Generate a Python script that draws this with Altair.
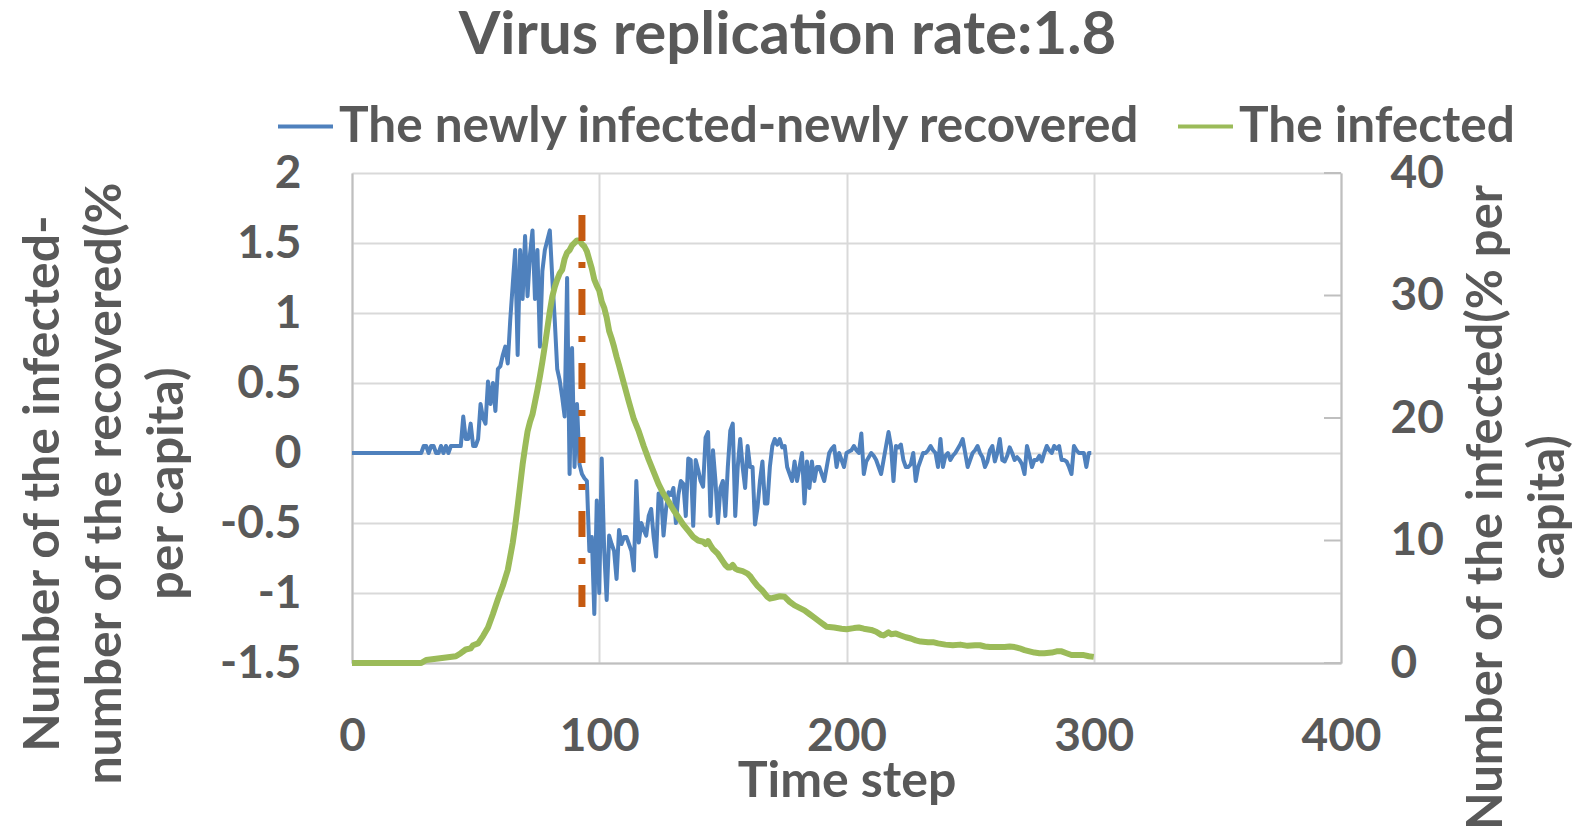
import altair as alt
import pandas as pd

title_text = "Virus replication rate:1.8"
series_names = ["The newly infected-newly recovered", "The infected"]
series_colors = ["#4f81bd", "#9bbb59"]
left_title = ["Number of the infected-", "number of the recovered(%", "per capita)"]
right_title = ["Number of the infected(% per", "capita)"]
x_title = "Time step"

# newly infected - newly recovered, one value per time step (0..299)
blue_values = [
    0, 0, 0, 0, 0, 0, 0, 0, 0, 0,
    0, 0, 0, 0, 0, 0, 0, 0, 0, 0,
    0, 0, 0, 0, 0, 0, 0, 0, 0, 0.05,
    0.05, 0, 0.05, 0.05, 0, 0, 0.05, 0, 0.05, 0,
    0.05, 0.05, 0.05, 0.05, 0.05, 0.26, 0.1, 0.1, 0.21, 0.05,
    0.05, 0.1, 0.35, 0.25, 0.21, 0.51, 0.35, 0.5, 0.3, 0.6,
    0.62, 0.7, 0.76, 0.64, 0.95, 1.2, 1.45, 0.7, 1.45, 1.1,
    1.55, 1.12, 1.42, 1.59, 1.1, 1.45, 0.76, 1.3, 1.45, 1.52,
    1.59, 1.25, 0.95, 0.6, 0.52, 0.4, 0.26, 1.25, -0.15, 0.75,
    -0.1, 0.35, -0.08, -0.15, -0.18, -0.2, -0.7, -0.6, -1.15, -0.34,
    -1.0, -0.04, -0.7, -1.05, -0.59, -0.65, -0.7, -0.9, -0.55, -0.65,
    -0.6, -0.6, -0.65, -0.7, -0.84, -0.2, -0.64, -0.5, -0.55, -0.59,
    -0.45, -0.4, -0.6, -0.74, -0.29, -0.3, -0.59, -0.4, -0.28, -0.3,
    -0.25, -0.5, -0.3, -0.2, -0.22, -0.45, -0.04, -0.05, -0.52, -0.05,
    -0.12, -0.2, -0.24, 0.11, 0.15, -0.45, 0.02, -0.2, -0.5, -0.25,
    -0.2, -0.45, -0.1, 0.16, 0.21, -0.45, -0.1, 0.1, -0.1, -0.25,
    0.05, -0.1, -0.1, -0.51, -0.39, -0.2, -0.06, -0.36, -0.36, -0.1,
    0.05, 0.1, 0.06, 0.1, 0.04, 0.05, -0.1, -0.15, -0.2, -0.06,
    -0.2, -0.1, 0, -0.36, -0.06, -0.25, -0.06, -0.2, -0.1, -0.1,
    -0.15, -0.2, -0.1, 0, 0.03, 0.05, -0.1, 0, -0.05, -0.1,
    0, 0.01, 0.02, 0.05, 0.02, 0, 0.14, -0.15, -0.06, -0.03,
    0, -0.02, -0.05, -0.1, -0.15, -0.05, 0.05, 0.15, 0.05, -0.2,
    0.05, 0.04, 0.06, -0.05, -0.1, -0.1, -0.08, 0, -0.2, -0.1,
    -0.05, 0, 0, 0.02, 0.05, 0.02, 0, -0.1, 0.1, -0.1,
    -0.02, 0, -0.05, -0.02, 0, 0.03, 0.06, 0.1, 0, -0.1,
    -0.05, 0, 0.02, 0.05, 0, -0.03, -0.1, -0.06, 0.02, 0.05,
    -0.06, 0, 0.1, -0.05, -0.06, -0.02, 0.04, 0, -0.05, -0.03,
    -0.05, -0.08, -0.15, 0.05, -0.02, -0.1, -0.05, -0.05, -0.02, -0.06,
    0, 0.05, 0.02, 0, 0.05, 0.03, 0.05, -0.05, -0.05, -0.06,
    -0.1, -0.15, 0.05, 0.02, 0, 0, 0, -0.1, 0, 0,
]
blue_steps = list(range(len(blue_values)))

# the infected (% per capita), read at these time steps
green_steps = [
    0, 28, 30, 34, 38, 42, 44, 46, 48, 49, 51, 53, 55, 57, 59, 61, 63, 65, 66, 67,
    68, 69, 70, 71, 72, 73, 74, 75, 76, 77, 78, 79, 80, 81, 82, 83, 84, 85, 86, 87,
    88, 89, 90, 91, 92, 93, 94, 95, 96, 97, 98, 99, 100, 101, 102, 103, 104, 105, 106, 107,
    108, 110, 112, 114, 116, 118, 120, 122, 124, 126, 128, 130, 132, 134, 136, 138, 140, 142, 143, 144,
    145, 146, 148, 150, 151, 152, 153, 154, 155, 156, 158, 160, 161, 162, 164, 166, 168, 169, 171, 173,
    175, 177, 179, 181, 183, 185, 187, 189, 191, 192, 195, 198, 200, 203, 205, 207, 210, 212, 214, 215,
    217, 218, 220, 222, 224, 226, 228, 230, 233, 235, 237, 240, 243, 246, 249, 252, 254, 256, 258, 261,
    264, 266, 268, 270, 272, 274, 276, 278, 280, 283, 285, 287, 289, 291, 293, 296, 298, 300,
]
green_values = [
    0, 0, 0.25, 0.35, 0.45, 0.55, 0.8, 1.1, 1.2, 1.45, 1.6, 2.2, 2.9, 4.0, 5.2, 6.3, 7.6, 9.8, 11.2, 12.8,
    14.5, 16.2, 17.6, 18.9, 19.7, 20.3, 21.3, 22.3, 23.4, 24.6, 25.9, 27.3, 28.7, 29.9, 30.7, 31.3, 31.8, 32.1, 33.0, 33.5,
    33.7, 34.1, 34.3, 34.5, 34.5, 34.2, 34.0, 33.6, 32.9, 32.2, 31.3, 30.8, 30.4, 29.5, 29.0, 28.2, 27.1, 26.5, 25.8, 25.0,
    24.3, 22.8, 21.3, 19.9, 18.9, 17.7, 16.6, 15.6, 14.6, 13.8, 13.2, 12.5, 11.9, 11.3, 10.8, 10.3, 10.0, 9.9, 9.7, 9.95,
    9.6, 9.3, 8.9, 8.3, 8.0, 7.8, 7.8, 8.0, 7.7, 7.6, 7.5, 7.3, 7.1, 6.8, 6.3, 5.9, 5.4, 5.25, 5.35, 5.45,
    5.4, 5.0, 4.7, 4.5, 4.3, 4.0, 3.7, 3.4, 3.1, 2.95, 2.9, 2.8, 2.75, 2.85, 2.9, 2.8, 2.7, 2.55, 2.3, 2.25,
    2.5, 2.35, 2.4, 2.25, 2.1, 2.0, 1.85, 1.75, 1.7, 1.7, 1.6, 1.5, 1.45, 1.5, 1.4, 1.45, 1.45, 1.35, 1.3, 1.3,
    1.3, 1.35, 1.3, 1.2, 1.05, 0.95, 0.85, 0.8, 0.8, 0.85, 0.95, 0.95, 0.8, 0.65, 0.65, 0.65, 0.55, 0.5,
]

# peak marker (dash-dot vertical line)
peak_step = [93]
peak_top = [1.7]
peak_bottom = [-1.1]

x_ticks = [0, 100, 200, 300, 400]
left_ticks = [-1.5, -1, -0.5, 0, 0.5, 1, 1.5, 2]
right_ticks = [0, 10, 20, 30, 40]

FONT = "Lato"
GREY = "#595959"
GRID = "#d9d9d9"
AXISLINE = "#bfbfbf"
W, H = 989, 490

blue_df = pd.DataFrame({"step": blue_steps, "value": blue_values, "series": series_names[0]})
green_df = pd.DataFrame({"step": green_steps, "value": green_values, "series": series_names[1]})
peak_df = pd.DataFrame({"step": peak_step, "top": peak_top, "bottom": peak_bottom})
tick_df = pd.DataFrame({"value": right_ticks})

x_scale = alt.Scale(domain=[0, 400], nice=False, zero=False)
left_scale = alt.Scale(domain=[-1.5, 2], nice=False, zero=False)
right_scale = alt.Scale(domain=[0, 40], nice=False, zero=False)
color_scale = alt.Scale(domain=series_names, range=series_colors)

label_style = dict(labelFont=FONT, labelFontSize=46, labelFontWeight="bold", labelColor=GREY,
                   labelFlush=False, labelOverlap=False)
title_style = dict(titleFont=FONT, titleFontWeight="bold", titleColor=GREY)

x_axis = alt.Axis(values=x_ticks, title=x_title, grid=True, gridColor=GRID, gridWidth=2,
                  domainColor=AXISLINE, domainWidth=2, ticks=False, tickSize=0, labelPadding=51,
                  titleX=W / 2, titleY=133, titleBaseline="alphabetic", titleAlign="center",
                  titleFontSize=50, **label_style, **title_style)
left_axis = alt.Axis(values=left_ticks, orient="left", title=left_title, grid=True, gridColor=GRID,
                     gridWidth=2, domainColor=AXISLINE, domainWidth=2, ticks=False, tickSize=0,
                     labelPadding=51, labelExpr="datum.value + ''",
                     titleAngle=270, titleX=-294, titleY=310, titleAlign="center",
                     titleBaseline="alphabetic", titleLineHeight=62, titleFontSize=50,
                     **label_style, **title_style)
right_axis = alt.Axis(values=right_ticks, orient="right", title=right_title, grid=False,
                      domainColor=AXISLINE, domainWidth=2, ticks=False, tickSize=0,
                      labelPadding=49, titleAngle=270, titleX=160, titleY=334, titleAlign="center",
                      titleBaseline="alphabetic", titleLineHeight=62, titleFontSize=49,
                      **label_style, **title_style)

legend = alt.Legend(orient="none", legendX=-76, legendY=-76, direction="horizontal", title=None,
                    symbolType="stroke", symbolSize=3025, symbolStrokeWidth=4,
                    labelFont=FONT, labelFontSize=49.5, labelFontWeight="bold", labelColor=GREY,
                    labelLimit=2000, columnPadding=29, labelOffset=4, padding=0)

x_enc = alt.X("step:Q", scale=x_scale, axis=x_axis)
color_enc = alt.Color("series:N", scale=color_scale, legend=legend)

blue = alt.Chart(blue_df).mark_line(strokeWidth=4, strokeJoin="round").encode(
    x=x_enc, y=alt.Y("value:Q", scale=left_scale, axis=left_axis), color=color_enc)

green = alt.Chart(green_df).mark_line(strokeWidth=6, strokeJoin="round").encode(
    x=x_enc, y=alt.Y("value:Q", scale=right_scale, axis=right_axis), color=color_enc)

right_tick_marks = alt.Chart(tick_df).mark_rule(color=AXISLINE, strokeWidth=2).encode(
    x=alt.value(W - 17), x2=alt.value(W),
    y=alt.Y("value:Q", scale=right_scale, axis=None))

peak = alt.Chart(peak_df).mark_rule(color="#c55a11", strokeWidth=7, strokeDash=[26, 21, 6, 21],
                                    strokeCap="butt").encode(
    x=x_enc, y=alt.Y("top:Q", scale=left_scale, axis=None), y2="bottom:Q")

chart = alt.layer(blue, green, right_tick_marks, peak).resolve_scale(y="independent").properties(
    width=W, height=H,
    title=alt.TitleParams(title_text, font=FONT, fontSize=60, fontWeight="bold", color=GREY,
                          anchor="middle", dx=-59, offset=30),
    autosize=alt.AutoSizeParams(type="none"),
    padding={"left": 344, "top": 165, "right": 235, "bottom": 169},
    background="white",
).configure_view(stroke=None)

chart.save("out.html", embed_options={"renderer": "svg", "actions": False})
